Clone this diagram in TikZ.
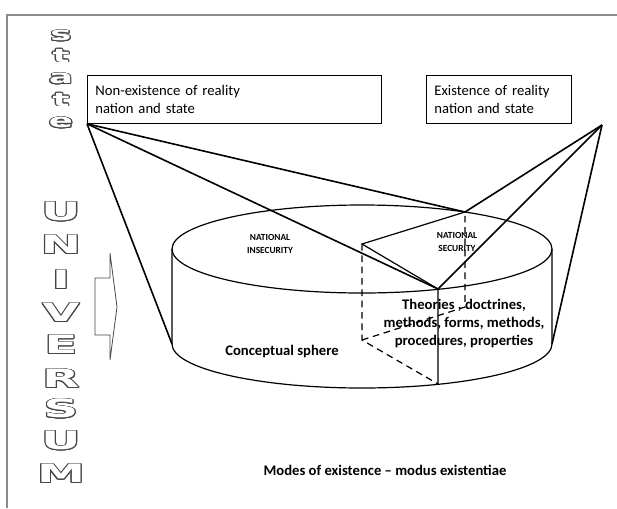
\documentclass[tikz,border=0pt]{standalone}
\usepackage{fontspec}
\setmainfont{Carlito}
\newfontfamily\outlinefont{DejaVu Sans}
\usepackage{graphicx}
\usepackage[copies]{contour}
\contourlength{0.45pt}
\definecolor{framegray}{RGB}{140,140,140}
\definecolor{lettergray}{RGB}{70,70,70}
\newcommand{\hollow}[1]{\scalebox{1.9}[1]{{\color{white}\contour{lettergray}{#1}}}}

\begin{document}
\begin{tikzpicture}[x=0.75pt,y=0.75pt,yscale=-1,xscale=1,
  thickline/.style={line width=1.2pt},
  cylline/.style={line width=0.9pt},
  hidden/.style={line width=0.9pt,dash pattern=on 5pt off 3.5pt},
  labelbox/.style={draw,line width=0.6pt,anchor=north west,align=left,inner xsep=6pt,minimum height=36pt,font=\fontsize{11}{13.5}\selectfont},
  letter/.style={inner sep=0pt,font=\outlinefont\bfseries\fontsize{19}{19}\selectfont},
  smallletter/.style={inner sep=0pt,font=\outlinefont\bfseries\fontsize{14}{14}\selectfont},
  capsnote/.style={inner sep=0pt,align=center,font=\bfseries\fontsize{7}{9.75}\selectfont},
  boldnote/.style={inner sep=0pt,align=center,font=\bfseries\fontsize{11}{13.5}\selectfont}]
\useasboundingbox (0,0) rectangle (617,508);

%Frame
\draw[framegray,line width=1pt] (7,508) -- (7,15) -- (617,15);

%Outlined letters, state
\node[smallletter] (ls1) at (61,36) {\hollow{s}};
\node[smallletter] (lt1) at (61,56) {\hollow{t}};
\node[smallletter] (la1) at (61,79) {\hollow{a}};
\node[smallletter] (lt2) at (61,100) {\hollow{t}};
\node[smallletter] (le1) at (61,123) {\hollow{e}};
%Outlined letters, universum
\node[letter] (lU1) at (61,212) {\hollow{U}};
\node[letter] (lN1) at (61,245) {\hollow{N}};
\node[letter] (lI1) at (61,280) {\hollow{I}};
\node[letter] (lV1) at (61,313) {\hollow{V}};
\node[letter] (lE1) at (61,345) {\hollow{E}};
\node[letter] (lR1) at (61,379) {\hollow{R}};
\node[letter] (lS1) at (61,409) {\hollow{S}};
\node[letter] (lU2) at (61,441) {\hollow{U}};
\node[letter] (lM1) at (61,474) {\hollow{M}};

%Callout arrow
\draw[lettergray,line width=0.6pt] (95,278) -- (110,278) -- (110,253) -- (117,307) -- (110,360) -- (110,335) -- (95,335) -- cycle;

%Label boxes
\node[labelbox,text width=208.5pt] (nonex) at (87,75) {Non-existence of reality\\nation and state};
\node[labelbox,text width=96.75pt] (exist) at (426,75) {Existence of reality\\nation and state};
\coordinate (rapex) at (602,125);

%Cylinder
\coordinate (topc) at (362,249);
\coordinate (tl) at (172,249);
\coordinate (tr) at (552,249);
\coordinate (bl) at (172,344);
\coordinate (br) at (552,344);
\draw[cylline] (topc) ellipse [x radius=190,y radius=44];
\draw[cylline] (tl) -- (bl) arc [start angle=180,end angle=0,x radius=190,y radius=44] -- (tr);

%Wedge
\coordinate (wc) at (362,244);
\coordinate (wf) at (438,289);
\coordinate (wb) at (465,212);
\coordinate (wcb) at (362,340);
\coordinate (wfb) at (438,384);
\coordinate (wbb) at (465,307);
\draw[cylline] (wb) -- (wc) -- (wf) -- (wfb);
\draw[hidden] (wc) -- (wcb) -- (wfb);
\draw[hidden] (wcb) -- (wbb) -- (wb);

%Lines from the boxes
\draw[thickline] (nonex.south west) -- (bl);
\draw[thickline] (nonex.south west) -- (wf);
\draw[thickline] (nonex.south west) -- (wb);
\draw[thickline] (rapex) -- (br);
\draw[thickline] (rapex) -- (wf);
\draw[thickline] (rapex) -- (wb);

% Text Nodes
\node[capsnote] (insec) at (270,244) {NATIONAL\\INSECURITY};
\node[capsnote] (secur) at (457,242) {NATIONAL\\SECURITY};
\node[boldnote] (theories) at (464,323) {Theories , doctrines,\\methods, forms, methods,\\procedures, properties};
\node[boldnote] (sphere) at (282,351) {Conceptual sphere};
\node[boldnote] (modes) at (385,470) {Modes of existence -- modus existentiae};

\end{tikzpicture}
\end{document}
